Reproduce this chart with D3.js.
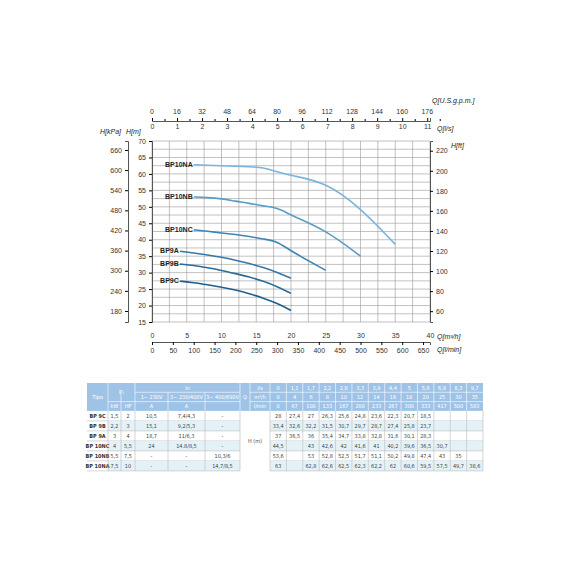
<!DOCTYPE html>
<html><head><meta charset="utf-8">
<script src="https://cdn.jsdelivr.net/npm/d3@7"></script>
<style>body{margin:0;background:#fff}svg{font-family:"Liberation Sans",Arial,sans-serif}</style>
</head><body>
<script>
// flows (table columns)
const flowLs = [0, 1.1, 1.7, 2.2, 2.8, 3.3, 3.9, 4.4, 5, 5.6, 6.9, 8.3, 9.7];
const flowM3h = [0, 4, 6, 8, 10, 12, 14, 16, 18, 20, 25, 30, 35];
const flowLmin = [0, 67, 100, 133, 167, 200, 233, 267, 300, 333, 417, 500, 583];

const models = ["BP 9C", "BP 9B", "BP 9A", "BP 10NC", "BP 10NB", "BP 10NA"];
const curveLabels = ["BP9C", "BP9B", "BP9A", "BP10NC", "BP10NB", "BP10NA"];
const kW = ["1,5", "2,2", "3", "4", "5,5", "7,5"];
const HP = ["2", "3", "4", "5,5", "7,5", "10"];
const in1 = ["10,5", "15,1", "18,7", "24", "-", "-"];
const in3a = ["7,4/4,3", "9,2/5,3", "11/6,3", "14.8/8,5", "-", "-"];
const in3b = ["-", "-", "-", "-", "10,3/6", "14,7/8,5"];
const heads = [
  [28, 27.4, 27, 26.3, 25.6, 24.8, 23.6, 22.3, 20.7, 18.5, null, null, null],
  [33.4, 32.6, 32.2, 31.5, 30.7, 29.7, 28.7, 27.4, 25.8, 23.7, null, null, null],
  [37, 36.5, 36, 35.4, 34.7, 33.8, 32.8, 31.6, 30.1, 28.3, null, null, null],
  [44.5, null, 43, 42.6, 42, 41.6, 41, 40.2, 39.6, 36.5, 30.7, null, null],
  [53.6, null, 53, 52.8, 52.5, 51.7, 51.1, 50.2, 49.8, 47.4, 43, 35, null],
  [63, null, 62.8, 62.6, 62.5, 62.3, 62.2, 62, 60.6, 59.5, 57.5, 49.7, 38.6]
];
const curveColors = ["#1f5f8f", "#2a6c9c", "#3577a8", "#3f85b5", "#5a9cc8", "#7ab5dc"];

const lsTicks = d3.range(0, 12);
const gpmTicks = d3.range(0, 177, 16);
const m3hTicks = d3.range(0, 41, 5);
const lminTicks = d3.range(0, 651, 50);
const mTicks = d3.range(15, 71, 5);
const kPaTicks = d3.range(180, 661, 60);
const ftTicks = d3.range(60, 221, 20);

const svg = d3.select("body").append("svg").attr("width", 570).attr("height", 570);
const x = d3.scaleLinear().domain([0, 40]).range([152, 430]);
const y = d3.scaleLinear().domain([15, 70]).range([322, 141]);

// grid
const g = svg.append("g");
g.selectAll(".vg").data(d3.range(0, 40.1, 2.5)).join("line")
  .attr("x1", d => x(d)).attr("x2", d => x(d)).attr("y1", y(15)).attr("y2", y(70))
  .attr("stroke", "#999").attr("stroke-width", 0.6);
g.selectAll(".hg").data(d3.range(15, 70.1, 2.5)).join("line")
  .attr("x1", x(0)).attr("x2", x(40)).attr("y1", d => y(d)).attr("y2", d => y(d))
  .attr("stroke", "#999").attr("stroke-width", 0.6);

const fs = "7px";
const style = a => { a.select(".domain").attr("stroke", "#555"); a.selectAll("text").attr("font-size", fs).attr("fill", "#333"); };
// left m axis
svg.append("g").attr("transform", `translate(${x(0)},0)`)
  .call(d3.axisLeft(y).tickValues(mTicks).tickSize(3)).call(style);
// kPa axis
const yk = d3.scaleLinear().domain([15 * 9.81, 70 * 9.81]).range([322, 141]);
svg.append("g").attr("transform", "translate(128,0)")
  .call(d3.axisLeft(yk).tickValues(kPaTicks).tickSize(3)).call(style);
// ft axis
const yf = d3.scaleLinear().domain([15 * 3.281, 70 * 3.281]).range([322, 141]);
svg.append("g").attr("transform", `translate(${x(40)},0)`)
  .call(d3.axisRight(yf).tickValues(ftTicks).tickSize(3)).call(style);
// bottom m3/h
svg.append("g").attr("transform", "translate(0,330)")
  .call(d3.axisBottom(x).tickValues(m3hTicks).tickSize(0)).call(a => { a.select(".domain").remove(); a.selectAll("text").attr("font-size", fs).attr("fill", "#333"); });
// l/min
const xl = d3.scaleLinear().domain([0, 40 * 1000 / 60]).range([152, 430]);
svg.append("g").attr("transform", "translate(0,342)")
  .call(d3.axisBottom(xl).tickValues(lminTicks).tickSize(3)).call(style);
// l/s top
const xs = d3.scaleLinear().domain([0, 40 / 3.6]).range([152, 430]);
svg.append("g").attr("transform", "translate(0,121)")
  .call(d3.axisBottom(xs).tickValues(lsTicks).tickSize(-3)).call(style);
svg.append("g").attr("transform", "translate(0,121)")
  .call(d3.axisTop(xs).tickValues(lsTicks.map(d => d + 0.5)).tickSize(2).tickFormat("")).call(a => a.select(".domain").remove());
svg.selectAll(".gpm").data(gpmTicks).join("text")
  .attr("x", (d, i) => xs(i)).attr("y", 114).attr("text-anchor", "middle")
  .attr("font-size", fs).attr("fill", "#333").text(d => d);

// unit labels
const unit = (t, px, py, anchor = "start") => svg.append("text").attr("x", px).attr("y", py)
  .attr("font-size", "7px").attr("font-style", "italic").attr("fill", "#222").attr("text-anchor", anchor).text(t);
unit("Q[U.S.g.p.m.]", 432, 103);
unit("Q[l/s]", 437, 131);
unit("H[kPa]", 100, 134);
unit("H[m]", 126, 134);
unit("H[ft]", 451, 148);
unit("Q[m³/h]", 437, 339);
unit("Q[l/min]", 437, 352);

// curves
const line = d3.line().x(d => x(d[0])).y(d => y(d[1])).curve(d3.curveBasis);
heads.forEach((h, i) => {
  const pts = flowM3h.map((q, j) => [q, h[j]]).filter((p, j) => j > 0 && p[1] != null);
  svg.append("path").attr("d", line(pts)).attr("fill", "none")
    .attr("stroke", curveColors[i]).attr("stroke-width", 1.6);
  svg.append("text").attr("x", x(pts[0][0]) - 1).attr("y", y(pts[0][1]) + 2)
    .attr("text-anchor", "end").attr("font-size", "7px").attr("font-weight", "bold")
    .attr("fill", "#222").text(curveLabels[i]);
});

// table
const ty0 = 383, hh = 9.3, rh = 10;
const vw = (483 - 270) / 13;
const hdr = "#9fc3e7";
const t = svg.append("g").attr("font-family", "'DejaVu Sans Condensed','Liberation Sans Narrow',sans-serif");
t.append("rect").attr("x", 87).attr("y", ty0).attr("width", 483 - 87).attr("height", hh * 3).attr("fill", hdr);
const tt = (s, cx, cy, col, w = "normal") => t.append("text").attr("x", cx).attr("y", cy).attr("text-anchor", "middle")
  .attr("font-size", "5.5px").attr("fill", col).attr("font-weight", w).text(s);
const vl = (px, y1, y2, c) => t.append("line").attr("x1", px).attr("x2", px).attr("y1", y1).attr("y2", y2).attr("stroke", c).attr("stroke-width", 0.6);
const hl = (x1, x2, py, c) => t.append("line").attr("x1", x1).attr("x2", x2).attr("y1", py).attr("y2", py).attr("stroke", c).attr("stroke-width", 0.6);
tt("Tipo", 97.5, ty0 + hh * 1.5 + 2, "#fff");
tt("P₂", 121.5, ty0 + hh + 2, "#fff");
tt("kW", 114.5, ty0 + hh * 2.5 + 2, "#fff"); tt("HP", 128, ty0 + hh * 2.5 + 2, "#fff");
tt("In", 187.5, ty0 + hh * 0.5 + 2, "#fff");
tt("1~ 230V", 151.5, ty0 + hh * 1.5 + 2, "#fff");
tt("3~ 230/400V", 186.5, ty0 + hh * 1.5 + 2, "#fff");
tt("3~ 400/690V", 222.5, ty0 + hh * 1.5 + 2, "#fff");
tt("A", 151.5, ty0 + hh * 2.5 + 2, "#fff"); tt("A", 186.5, ty0 + hh * 2.5 + 2, "#fff");
tt("Q", 245, ty0 + hh * 1.5 + 2, "#fff");
["l/s", "m³/h", "l/min"].forEach((s, i) => tt(s, 260, ty0 + hh * (i + 0.5) + 2, "#fff"));
[flowLs, flowM3h, flowLmin].forEach((arr, i) => arr.forEach((v, j) =>
  tt(String(v).replace(".", ","), 270 + vw * (j + 0.5), ty0 + hh * (i + 0.5) + 2, "#fff")));
[108, 135, 240, 250, 270].forEach(px => vl(px, ty0, ty0 + hh * 3, "#fff"));
[121, 168, 205].forEach(px => vl(px, ty0 + hh, ty0 + hh * 3, "#fff"));
d3.range(1, 13).forEach(j => vl(270 + vw * j, ty0, ty0 + hh * 3, "#fff"));
hl(108, 135, ty0 + hh * 2, "#fff"); hl(135, 240, ty0 + hh, "#fff"); hl(135, 240, ty0 + hh * 2, "#fff");
hl(250, 483, ty0 + hh, "#fff"); hl(250, 483, ty0 + hh * 2, "#fff");
const by = ty0 + hh * 3;
models.forEach((m, i) => {
  const ry = by + rh * i;
  if (i % 2 === 1) {
    t.append("rect").attr("x", 108).attr("y", ry).attr("width", 132).attr("height", rh).attr("fill", "#e4f2f8");
    t.append("rect").attr("x", 270).attr("y", ry).attr("width", 213).attr("height", rh).attr("fill", "#e4f2f8");
  }
  const cy = ry + rh / 2 + 2;
  tt(m, 97.5, cy, "#333", "bold");
  tt(kW[i], 114.5, cy, "#444"); tt(HP[i], 128, cy, "#444");
  tt(in1[i], 151.5, cy, "#444"); tt(in3a[i], 186.5, cy, "#444"); tt(in3b[i], 222.5, cy, "#444");
  heads[i].forEach((v, j) => { if (v != null) tt(String(v).replace(".", ","), 270 + vw * (j + 0.5), cy, "#444"); });
  hl(87, 240, ry + rh, "#bbb"); hl(270, 483, ry + rh, "#bbb");
});
tt("H (m)", 255, by + rh * 3 + 2, "#444");
[108, 121, 135, 168, 205, 240, 270].forEach(px => vl(px, by, by + rh * 6, "#bbb"));
d3.range(1, 14).forEach(j => vl(270 + vw * j, by, by + rh * 6, "#bbb"));
</script>
</body></html>
